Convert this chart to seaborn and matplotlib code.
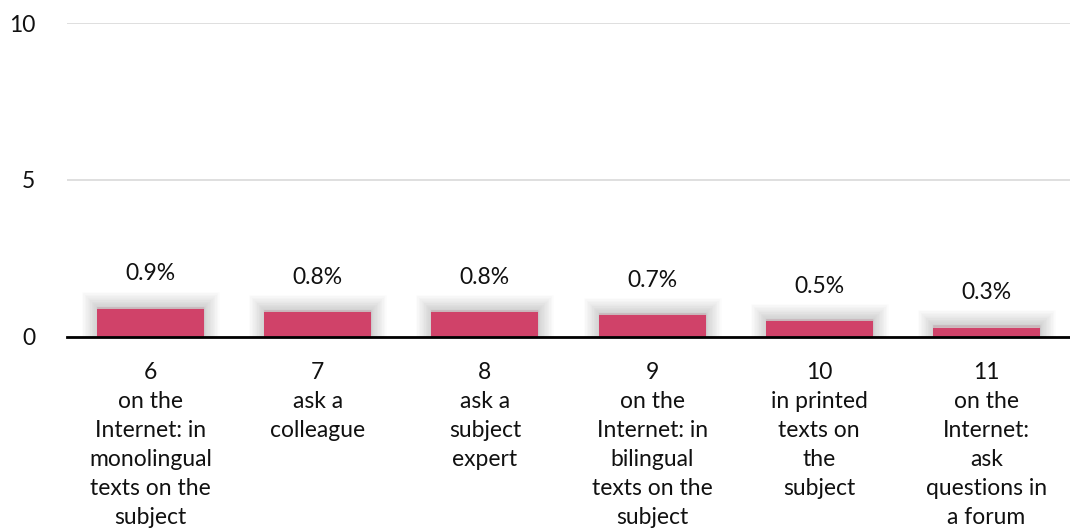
import matplotlib
matplotlib.use("Agg")
import matplotlib.pyplot as plt
import matplotlib.patheffects as pe
import seaborn as sns
import pandas as pd
import numpy as np

# Survey answers: where translators look for help
codes = ["6", "7", "8", "9", "10", "11"]
descriptions = [
    "on the\nInternet: in\nmonolingual\ntexts on the\nsubject",
    "ask a\ncolleague",
    "ask a\nsubject\nexpert",
    "on the\nInternet: in\nbilingual\ntexts on the\nsubject",
    "in printed\ntexts on\nthe\nsubject",
    "on the\nInternet:\nask\nquestions in\na forum",
]
shares = [0.9, 0.8, 0.8, 0.7, 0.5, 0.3]
y_ticks = [0, 5, 10]

sns.set_theme(style="white")
plt.rcParams["font.family"] = ["Lato", "DejaVu Sans"]

df = pd.DataFrame({"code": codes, "share": shares})

fig = plt.figure(figsize=(10.7, 5.29), dpi=100)
ax = fig.add_axes([0.0626, 0.363, 0.9374, 0.5935])

bar_color = "#D04269"
sns.barplot(data=df, x="code", y="share", order=codes, color=bar_color,
            saturation=1, width=0.64, ax=ax, zorder=3)

# soft shadow around each bar
glow = [pe.Stroke(linewidth=w, foreground="black", alpha=0.014, offset=(0, 1.5))
        for w in range(22, 1, -2)]
for patch in ax.patches:
    patch.set_edgecolor(bar_color)
    patch.set_linewidth(0)
    patch.set_path_effects(glow + [pe.Normal()])

# value labels above bars
for i, v in enumerate(shares):
    ax.annotate(f"{v:.1f}%", xy=(i, v), xytext=(0, 25), textcoords="offset points",
                ha="center", va="center", fontsize=16.5, color="#111111", zorder=5)

ax.set_xlim(-0.5, len(codes) - 0.5)
ax.set_ylim(0, 10)
ax.set_yticks(y_ticks)
ax.set_yticklabels([str(t) for t in y_ticks], fontsize=16.5, color="#111111")
ax.yaxis.grid(True, color="#d9d9d9", linewidth=1.2, zorder=0)
ax.set_axisbelow(True)

ax.set_xticks(range(len(codes)))
ax.set_xticklabels([f"{c}\n{d}" for c, d in zip(codes, descriptions)],
                   fontsize=16.5, color="#111111", linespacing=1.47, va="top")
ax.set_xticks(np.arange(-0.5, len(codes), 1.0), minor=True)
ax.tick_params(axis="x", which="major", length=0, pad=18)
ax.tick_params(axis="x", which="minor", length=8, width=1.5, direction="inout", color="black")
ax.tick_params(axis="y", length=0, pad=23)

ax.set_xlabel("")
ax.set_ylabel("")
for side in ("top", "right", "left"):
    ax.spines[side].set_visible(False)
ax.spines["bottom"].set_color("black")
ax.spines["bottom"].set_linewidth(2)
ax.spines["bottom"].set_zorder(4)

fig.savefig("out.png", dpi=100)
